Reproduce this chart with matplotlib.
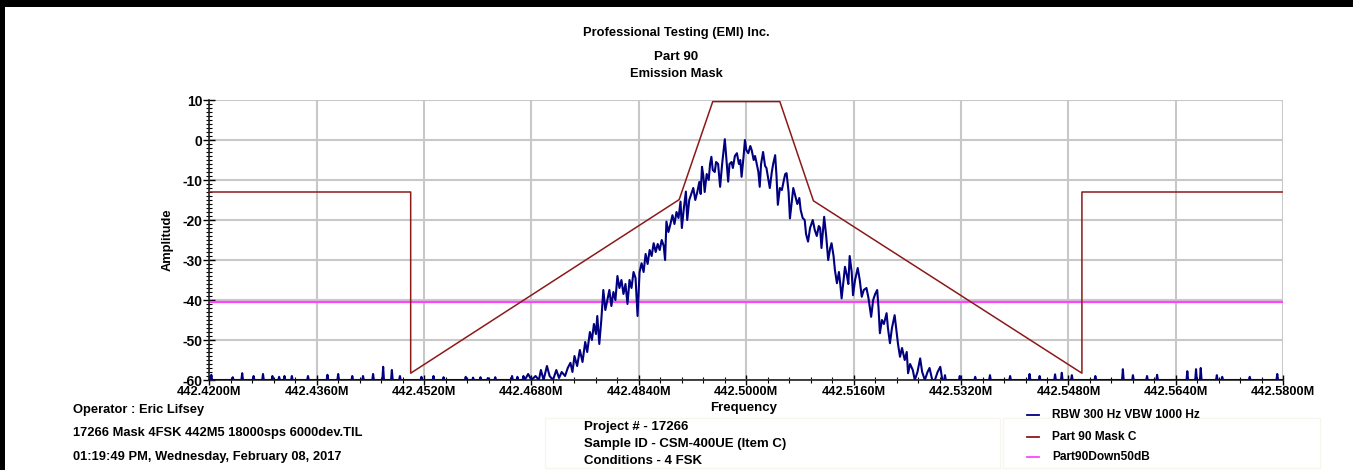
import numpy as np
import matplotlib.pyplot as plt
from matplotlib.lines import Line2D
from matplotlib.patches import Rectangle

plt.rcParams['font.family'] = ['Liberation Sans', 'DejaVu Sans']
plt.rcParams['font.weight'] = 'bold'
plt.rcParams['axes.unicode_minus'] = False

# ---- data ----
# limit mask (MHz, dBm)
mask_mhz = [442.42, 442.45, 442.45, 442.49, 442.495, 442.505, 442.51, 442.55, 442.55, 442.58]
mask_db = [-13, -13, -58.3, -14.9, 9.6, 9.6, -15.2, -58.3, -13, -13]
down50_db = -40.4

# measured trace around the carrier: offset from 442.5 MHz in kHz, level in dB
sig_khz = [-33.0, -32.5, -32.0, -31.4, -30.9, -30.6, -30.2, -29.7, -29.3, -28.8,
           -28.3, -27.9, -27.5, -27.0, -26.6, -26.2, -25.9, -25.6, -25.2, -24.8,
           -24.4, -24.0, -23.7, -23.3, -23.0, -22.7, -22.4, -22.2, -21.9, -21.6,
           -21.3, -21.0, -20.7, -20.4, -20.1, -19.8, -19.5, -19.2, -18.9, -18.6,
           -18.3, -18.0, -17.7, -17.4, -17.1, -16.8, -16.5, -16.2, -15.9, -15.6,
           -15.3, -15.0, -14.7, -14.4, -14.1, -13.8, -13.5, -13.2, -12.9, -12.6,
           -12.3, -12.1, -11.9, -11.6, -11.3, -11.0, -10.7, -10.4, -10.1, -9.8,
           -9.6, -9.3, -9.0, -8.8, -8.5, -8.2, -7.9, -7.6, -7.3, -7.0,
           -6.8, -6.6, -6.4, -6.2, -5.9, -5.6, -5.4, -5.2, -5.0, -4.7,
           -4.5, -4.2, -3.9, -3.6, -3.2, -3.0, -2.7, -2.5, -2.2, -2.0,
           -1.7, -1.4, -1.1, -0.9, -0.7, -0.4, -0.2, 0.0, 0.3, 0.6,
           0.8, 1.1, 1.3, 1.5, 1.8, 2.0, 2.2, 2.5, 2.8, 3.0,
           3.3, 3.5, 3.8, 4.0, 4.3, 4.5, 4.7, 5.0, 5.3, 5.6,
           5.8, 6.0, 6.3, 6.5, 6.8, 7.0, 7.3, 7.6, 7.9, 8.1,
           8.4, 8.7, 8.9, 9.2, 9.5, 9.9, 10.2, 10.5, 10.8, 11.0,
           11.2, 11.4, 11.6, 11.9, 12.2, 12.5, 12.7, 13.0, 13.2, 13.5,
           13.8, 14.0, 14.2, 14.5, 14.7, 15.0, 15.2, 15.4, 15.7, 15.9,
           16.2, 16.6, 16.9, 17.2, 17.5, 17.9, 18.2, 18.6, 18.9, 19.2,
           19.5, 19.7, 19.9, 20.2, 20.5, 20.9, 21.1, 21.4, 21.7, 22.1,
           22.4, 22.6, 22.9, 23.2, 23.6, 23.9, 24.1, 24.4, 24.8, 25.1,
           25.5, 25.9, 26.2, 26.6, 27.0, 27.3, 27.7, 28.1, 28.5, 28.9,
           29.2]
sig_db = [-60, -58.5, -60, -59, -60, -57.5, -60, -56.5, -59, -60,
          -57.5, -59.5, -58, -59, -57, -55.7, -58, -54, -56.5, -52.5,
          -55.5, -50.5, -53, -48, -50, -46, -48.5, -44, -51, -45,
          -37.5, -42.5, -40, -37.5, -41.5, -38, -40, -34, -37, -35,
          -38.5, -36, -41, -35, -37, -33, -34.5, -44, -33, -30.8,
          -33, -28.5, -31, -27.5, -29, -25.8, -28, -26, -27.5, -25,
          -26.5, -30, -20.4, -23, -21, -18.8, -21, -18, -19.5, -15.4,
          -22, -17, -12.9, -20, -15, -13.5, -12, -15, -13, -10.5,
          -13.5, -6.7, -9, -13, -8.5, -10, -6, -4.2, -7.5, -8,
          -5.5, -6, -11.7, -6, 0.2, -4, -10.4, -6, -5.5, -7,
          -4, -3.3, -6, -5, -9.2, -4, 0, -2.5, -3.3, -1.5,
          -2.5, -5, -4, -5.5, -8, -11.7, -6, -3, -6.5, -7,
          -10, -12, -8, -6, -3.8, -9, -16.2, -12, -12.5, -10,
          -8.5, -8.3, -13, -19.6, -15, -12, -14, -16, -14.5, -17.5,
          -19.5, -20, -23.5, -25.4, -22, -20, -22.5, -24, -21.5, -22,
          -27, -23, -19.2, -24, -30, -27, -25.8, -29, -32.5, -35.8,
          -33, -36, -39.6, -35, -31.7, -34, -36, -29, -33, -38.8,
          -35, -32, -35, -39.2, -37.5, -37, -39.5, -44.2, -40, -38.5,
          -37.5, -42, -48.3, -45, -46, -43.3, -47, -50.8, -47, -43.8,
          -48, -51, -54.2, -52, -55, -53, -58.3, -56, -57.5, -60,
          -58, -54.6, -58, -60, -58, -57, -60, -60, -58, -56.7,
          -60]

# small spurs on the noise floor: kHz above 442.42 MHz, level in dB
spur_khz = [0.3, 3.5, 4.9, 6.6, 8.0, 9.4, 10.4, 11.2, 12.3, 14.7, 17.6, 19.2,
            21.3, 22.9, 24.4, 25.9, 27.2, 28.4, 31.6, 33.4, 34.9, 38.2, 39.3,
            40.4, 41.5, 42.6, 45.1, 45.9, 46.8,
            109.6, 111.8, 114.1, 116.3, 119.3, 122.2, 123.7, 126.0, 127.0, 128.5,
            132.0, 136.1, 137.6, 139.7, 141.2, 145.7, 147.0, 147.7, 150.1, 150.9,
            155.0, 159.1]
spur_db = [-58.7, -59.3, -58.3, -59, -58.5, -59, -59.2, -59, -59, -59, -58.7, -58.5,
           -59, -59, -58.5, -56.7, -57.5, -59, -59.2, -59, -59.3, -59.2, -59.4,
           -59.3, -59.5, -59.3, -59, -59.2, -59,
           -58.8, -59, -59.2, -58.8, -59, -58.5, -59, -58.6, -58.2, -58.8,
           -59, -57.3, -58.8, -59, -58.7, -57.8, -57.3, -57, -58.8, -59.2,
           -59.2, -58.5]

xtick_mhz = [442.42, 442.436, 442.452, 442.468, 442.484, 442.5,
             442.516, 442.532, 442.548, 442.564, 442.58]
ytick_db = [-60, -50, -40, -30, -20, -10, 0, 10]

series_labels = ['RBW 300 Hz VBW 1000 Hz', 'Part 90 Mask C', 'Part90Down50dB']
series_colors = ['#000080', '#8b1a1a', '#ff44ff']

info_left = ['Operator : Eric Lifsey',
             '17266 Mask 4FSK 442M5 18000sps 6000dev.TIL',
             '01:19:49 PM, Wednesday, February 08, 2017']
info_mid = ['Project # - 17266',
            'Sample ID - CSM-400UE (Item C)',
            'Conditions - 4 FSK']

# ---- build the full sweep: floor with spurs + carrier ----
fx, fy = [442.42], [-60.0]
for k, d in zip(spur_khz, spur_db):
    if k > 47:
        continue
    f = 442.42 + k / 1000
    fx += [f - 0.00012, f, f + 0.00012]
    fy += [-60, d, -60]
fx += list(442.5 + np.array(sig_khz) / 1000)
fy += sig_db
for k, d in zip(spur_khz, spur_db):
    if k < 47:
        continue
    f = 442.42 + k / 1000
    fx += [f - 0.00012, f, f + 0.00012]
    fy += [-60, d, -60]
fx.append(442.58)
fy.append(-60)

W, H = 1353, 470
fig = plt.figure(figsize=(W / 100, H / 100), dpi=100)
ax = fig.add_axes([209.3 / W, 1 - 380 / H, 1074 / W, 280 / H])

ax.axhline(down50_db, color=series_colors[2], lw=1.6, zorder=2)
ax.plot(fx, fy, color=series_colors[0], lw=1.5, zorder=3)
ax.plot(mask_mhz, mask_db, color=series_colors[1], lw=1.1, zorder=4)

ax.set_xlim(442.42, 442.58)
ax.set_ylim(-60, 10)
ax.set_xticks(xtick_mhz)
ax.set_xticklabels([f'{v:.4f}M' for v in xtick_mhz])
ax.set_xticks(np.arange(442.42, 442.5801, 0.0032), minor=True)
ax.set_yticks(ytick_db)
ax.set_yticks(np.arange(-60, 10.5, 1), minor=True)

ax.grid(which='major', color='#c8c8c8', lw=1.5)
ax.set_axisbelow(True)
for s in ['top', 'right']:
    ax.spines[s].set_visible(False)
for s in ['left', 'bottom']:
    ax.spines[s].set_color('#222222')
    ax.spines[s].set_linewidth(1.2)

ax.tick_params(axis='y', which='major', direction='inout', length=8, width=1,
               labelsize=10, pad=1)
ax.tick_params(axis='y', which='minor', direction='inout', length=5, width=0.8)
ax.tick_params(axis='x', which='major', direction='inout', length=7, width=1,
               labelsize=9.2, pad=1)
ax.tick_params(axis='x', which='minor', direction='inout', length=5, width=0.8)
for lab in ax.get_xticklabels() + ax.get_yticklabels():
    lab.set_fontweight('bold')

# frame of the printout
fig.add_artist(Rectangle((0, 1 - 7 / H), 1, 7 / H, transform=fig.transFigure,
                         color='black', lw=0))
fig.add_artist(Rectangle((0, 0), 5 / W, 1, transform=fig.transFigure,
                         color='black', lw=0))

# titles
fig.text(0.5, 1 - 33 / H, 'Professional Testing (EMI) Inc.', ha='center', va='center',
         fontsize=9.3, weight='bold')
fig.text(0.5, 1 - 57 / H, 'Part 90', ha='center', va='center', fontsize=9.5, weight='bold')
fig.text(0.5, 1 - 74 / H, 'Emission Mask', ha='center', va='center', fontsize=9.3,
         weight='bold')
fig.text(168 / W, 1 - 240 / H, 'Amplitude', rotation=90, ha='center', va='center',
         fontsize=9.3, weight='bold')
fig.text(744 / W, 1 - 408 / H, 'Frequency', ha='center', va='center', fontsize=9.5,
         weight='bold')

# info blocks
for t, y in zip(info_left, [410, 433, 457]):
    fig.text(73 / W, 1 - y / H, t, ha='left', va='center', fontsize=9.3, weight='bold')
fig.add_artist(Rectangle((545 / W, 1 - 468 / H), 455 / W, 50 / H,
                         transform=fig.transFigure, fill=False, ec='#f8f5ee', lw=1))
for t, y in zip(info_mid, [427, 444, 461]):
    fig.text(584 / W, 1 - y / H, t, ha='left', va='center', fontsize=9.5, weight='bold')

# legend
fig.add_artist(Rectangle((1003 / W, 1 - 468 / H), 317 / W, 50 / H,
                         transform=fig.transFigure, fill=False, ec='#f8f5ee', lw=1))
for lab, col, y in zip(series_labels, series_colors, [415, 437, 457]):
    yy = 1 - y / H
    fig.add_artist(Line2D([1027 / W, 1039 / W], [yy, yy], transform=fig.transFigure,
                          color=col, lw=1.3))
    fig.text(1052 / W, yy, lab, ha='left', va='center', fontsize=8.6, weight='bold')

fig.savefig('out.png', dpi=100)
